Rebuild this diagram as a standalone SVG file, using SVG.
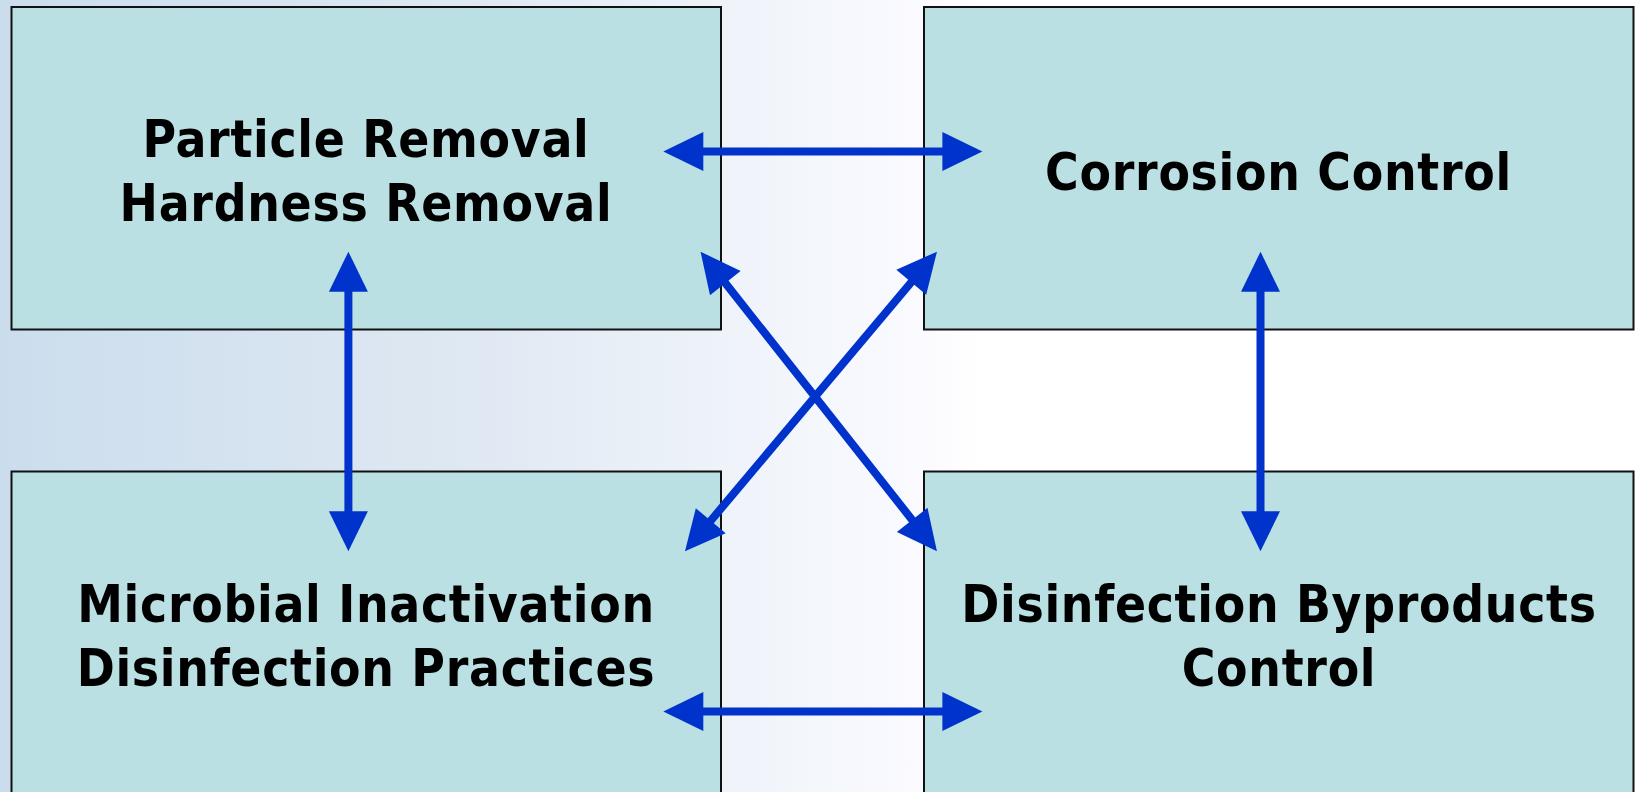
<svg xmlns="http://www.w3.org/2000/svg" width="1636" height="792" viewBox="0 0 1636 792">
<style>
.box{fill:#bbe0e3;stroke:#111;stroke-width:2}
.lbl{font-family:"DejaVu Sans Condensed","DejaVu Sans",sans-serif;font-stretch:condensed;font-weight:bold;font-size:51px;letter-spacing:0.7px;fill:#000;text-anchor:middle}
.con{stroke:#0033cc;stroke-width:8;fill:none;marker-start:url(#ah);marker-end:url(#ah)}
</style>
<defs>
<linearGradient id="bg" x1="0" y1="0" x2="1" y2="0">
<stop offset="0" stop-color="#cbdded"/>
<stop offset="0.3" stop-color="#e0e9f3"/>
<stop offset="0.5" stop-color="#f4f7fc"/>
<stop offset="0.56" stop-color="#fafaff"/>
<stop offset="0.6" stop-color="#ffffff"/>
<stop offset="1" stop-color="#ffffff"/>
</linearGradient>
<marker id="ah" markerUnits="userSpaceOnUse" markerWidth="42" markerHeight="42" viewBox="-2 -21 42 42" refX="0" refY="0" orient="auto-start-reverse">
<path d="M-1,-19.5 L39,0 L-1,19.5 Z" fill="#0033cc"/>
</marker>
</defs>
<rect x="0" y="0" width="1636" height="792" fill="url(#bg)"/>
<g id="n1">
<rect class="box" x="11.5" y="7" width="709.5" height="322.5"/>
<text class="lbl" x="366" y="157">Particle Removal</text>
<text class="lbl" x="366" y="221">Hardness Removal</text>
</g>
<g id="n2">
<rect class="box" x="924" y="7" width="709.5" height="322.5"/>
<text class="lbl" x="1278.5" y="189.5">Corrosion Control</text>
</g>
<g id="n3">
<rect class="box" x="11.5" y="471.5" width="709.5" height="330"/>
<text class="lbl" x="366" y="621.5">Microbial Inactivation</text>
<text class="lbl" x="366" y="685.5">Disinfection Practices</text>
</g>
<g id="n4">
<rect class="box" x="924" y="471.5" width="709.5" height="330"/>
<text class="lbl" x="1279" y="621.5">Disinfection Byproducts</text>
<text class="lbl" x="1279" y="685.5">Control</text>
</g>
<g id="connectors">
<line class="con" x1="702.3" y1="151.5" x2="943.4" y2="151.5"/>
<line class="con" x1="702.3" y1="711.5" x2="943.4" y2="711.5"/>
<line class="con" x1="348.4" y1="290.7" x2="348.4" y2="512.3"/>
<line class="con" x1="1260.5" y1="290.7" x2="1260.5" y2="512.3"/>
<line class="con" x1="724.7" y1="282.3" x2="912.8" y2="520.7"/>
<line class="con" x1="911.9" y1="281.5" x2="710.1" y2="521.5"/>
</g>
</svg>
